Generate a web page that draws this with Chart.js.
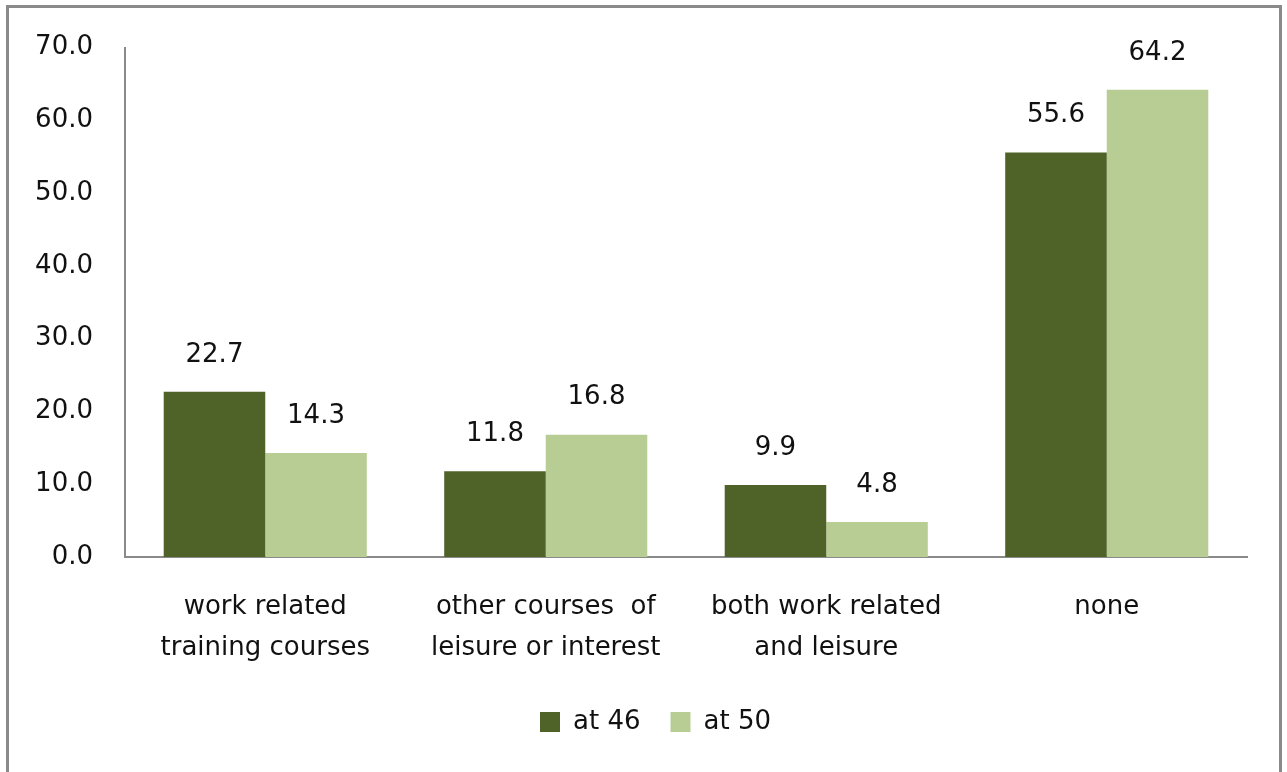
<!DOCTYPE html>
<html>
<head>
<meta charset="utf-8">
<script src="https://cdn.jsdelivr.net/npm/chart.js@4"></script>
<style>
  html, body { margin: 0; padding: 0; background: #fff; }
  #wrap { position: relative; width: 1287px; height: 772px; overflow: hidden; }
  #frame { position: absolute; left: 6px; top: 5px; width: 1276px; height: 800px; border: 3px solid #8a8a8a; box-sizing: border-box; }
  canvas { position: absolute; left: 0; top: 0; }
</style>
</head>
<body>
<div id="wrap">
  <div id="frame"></div>
  <canvas id="chart" width="1287" height="772"></canvas>
</div>
<script>
const categories = [
  ["work related", "training courses"],
  ["other courses  of", "leisure or interest"],
  ["both work related", "and leisure"],
  "none"
];
const at46 = [22.7, 11.8, 9.9, 55.6];
const at50 = [14.3, 16.8, 4.8, 64.2];

const FONT = "'DejaVu Sans', sans-serif";

// labels above bars
const barLabels = {
  id: "barLabels",
  afterDatasetsDraw(chart) {
    const ctx = chart.ctx;
    ctx.save();
    ctx.font = "26px " + FONT;
    ctx.fillStyle = "#111";
    ctx.textAlign = "center";
    ctx.textBaseline = "middle";
    chart.data.datasets.forEach((ds, i) => {
      chart.getDatasetMeta(i).data.forEach((bar, j) => {
        ctx.fillText(ds.data[j].toFixed(1), bar.x, bar.y - 37);
      });
    });
    ctx.restore();
  }
};

// legend sits a bit right of the canvas centre in the original
const legendShift = {
  id: "legendShift",
  afterLayout(chart) {
    chart.legend.left += 32;
    chart.legend.right += 32;
  }
};

new Chart(document.getElementById("chart").getContext("2d"), {
  type: "bar",
  data: {
    labels: categories,
    datasets: [
      {
        label: "at 46",
        data: at46,
        backgroundColor: "#4f6228",
      },
      {
        label: "at 50",
        data: at50,
        backgroundColor: "#b8cd94",
      },
    ],
  },
  options: {
    responsive: false,
    animation: false,
    devicePixelRatio: 1,
    layout: {
      padding: { left: 0, right: 40, top: 45, bottom: 27 }
    },
    datasets: {
      bar: { categoryPercentage: 0.724, barPercentage: 1 }
    },
    plugins: {
      legend: {
        display: true,
        position: "bottom",
        labels: {
          color: "#111",
          font: { family: FONT, size: 26 },
          boxWidth: 20,
          boxHeight: 20,
          padding: 30,
        }
      },
      tooltip: { enabled: false },
    },
    scales: {
      x: {
        grid: { display: false, drawTicks: false },
        border: { color: "#8a8a8a", width: 2 },
        ticks: {
          color: "#111",
          font: { family: FONT, size: 26, lineHeight: 1.58 },
          padding: 30,
          maxRotation: 0,
          autoSkip: false,
        },
        afterFit(scale) { scale.height = 122; }
      },
      y: {
        min: 0,
        max: 70,
        grid: { display: false, drawTicks: false },
        border: { color: "#8a8a8a", width: 2 },
        ticks: {
          stepSize: 10,
          color: "#111",
          font: { family: FONT, size: 26 },
          padding: 32,
          callback: (v) => v.toFixed(1),
        },
        afterFit(scale) { scale.width = 125; }
      },
    },
  },
  plugins: [barLabels, legendShift],
});
</script>
</body>
</html>
